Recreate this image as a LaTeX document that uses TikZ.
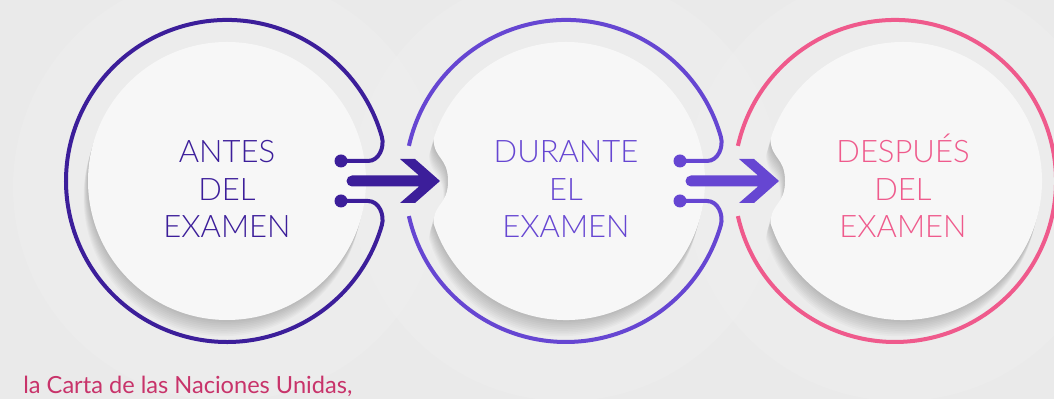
\documentclass[tikz,border=0pt]{standalone}
\usepackage{fontspec}
\setmainfont{Carlito}
\IfFontExistsTF{Lato Light}{\newfontfamily\stagefont{Lato Light}}{\newfontfamily\stagefont{Carlito}}
\newfontfamily\notefont{Lato}
\newcommand{\notchdisc}[1]{(#1-132.5,260) arc[start angle=162.4,end angle=-162.4,radius=139]
  .. controls (#1-132,196) and (#1-118,194) .. (#1-118,218)
  .. controls (#1-118,242) and (#1-132,240) .. (#1-132.5,260) -- cycle}
\begin{document}
\begin{tikzpicture}[x=0.5pt,y=0.5pt,
    ring/.style={line width=2pt},
    stage/.style={align=center,font=\stagefont\fontsize{15.5}{18.75}\selectfont,inner sep=0pt,anchor=south,text depth=0pt},
  ]
  \definecolor{kBack}{HTML}{EAEAEA}
  \definecolor{kDisc}{HTML}{F7F7F7}
  \definecolor{kIndigo}{HTML}{3C1E9A}
  \definecolor{kPurple}{HTML}{6646D2}
  \definecolor{kPink}{HTML}{EF5A8C}
  \definecolor{kCrimson}{HTML}{C8336A}

  \fill[kBack] (0,0) rectangle (1054,399);
  \useasboundingbox (0,0) rectangle (1054,399);

  % faint halos behind the stages
  \foreach \cx in {227,566,900}
    \fill[white,opacity=0.1] (\cx,212) circle (214);

  % soft shadows, then the discs
  \foreach \k in {1,...,9}
  {
    \fill[black,opacity=0.024,shift={(-0.5*\k,-1.8*\k)}] (227,218) circle (139);
    \fill[black,opacity=0.024,shift={(-0.5*\k,-1.8*\k)}] \notchdisc{566};
    \fill[black,opacity=0.024,shift={(-0.5*\k,-1.8*\k)}] \notchdisc{903};
  }
  \fill[kDisc] (227,218) circle (139);
  \fill[kDisc] \notchdisc{566};
  \fill[kDisc] \notchdisc{903};

  % rings
  \draw[ring,kIndigo] (341,238) -- (368,238) to[out=0,in=-74] (381.8,262.4)
    arc[start angle=16,end angle=344,radius=161] to[out=74,in=0] (368,198) -- (341,198);
  \draw[ring,kPurple] (680,238) -- (707,238) to[out=0,in=-74] (720.8,262.4)
    arc[start angle=16,end angle=167.4,radius=161];
  \draw[ring,kPurple] (408.9,182.9) arc[start angle=192.6,end angle=344,radius=161]
    to[out=74,in=0] (707,198) -- (680,198);
  \draw[ring,kPink] (737.9,182.9) arc[start angle=192.6,end angle=527.4,radius=161];

  % dots and arrows
  \foreach \dx/\col in {0/kIndigo,339/kPurple}
  {
    \fill[\col] (341+\dx,238) circle (6.5);
    \fill[\col] (341+\dx,198) circle (6.5);
    \fill[\col] (352+\dx,223.5) -- (419+\dx,223.5) -- (400+\dx,240) -- (415+\dx,240) -- (440+\dx,218)
      -- (415+\dx,196) -- (400+\dx,196) -- (419+\dx,212.5) -- (352+\dx,212.5)
      arc[start angle=270,end angle=90,radius=5.5] -- cycle;
  }

  % texts
  \node[stage,text=kIndigo] (antes) at (227,161) {ANTES\\DEL\\EXAMEN};
  \node[stage,text=kPurple] (durante) at (566,161) {DURANTE\\EL\\EXAMEN};
  \node[stage,text=kPink] (despues) at (903,161) {DESPUÉS\\DEL\\EXAMEN};
  \node[anchor=base west,inner sep=0pt,text=kCrimson,font=\notefont\fontsize{11.8}{14}\selectfont] (carta) at (23,5) {la Carta de las Naciones Unidas,};
\end{tikzpicture}
\end{document}
